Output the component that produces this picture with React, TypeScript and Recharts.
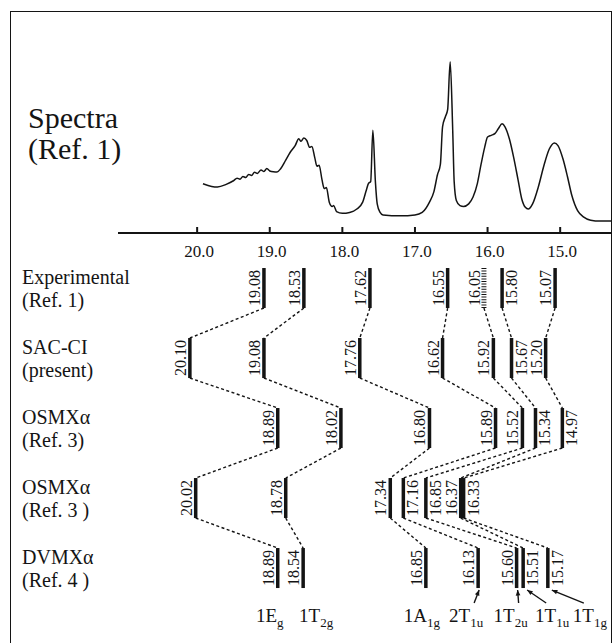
import { ComposedChart, Line, Scatter, XAxis, YAxis, ReferenceLine } from 'recharts';

const SERIF = "'Liberation Serif', 'Times New Roman', serif";
const INK = '#141414';

// photoelectron spectrum (eV, relative intensity)
const SPECTRUM_EV = [
  19.92, 19.8, 19.72, 19.6, 19.5, 19.45, 19.41, 19.37, 19.33, 19.29, 19.25, 19.21, 19.17, 19.12, 19.08,
  19.04, 19.0, 18.95, 18.9, 18.85, 18.78, 18.72, 18.65, 18.6, 18.57, 18.53, 18.49, 18.45, 18.42, 18.38,
  18.35, 18.32, 18.28, 18.25, 18.22, 18.18, 18.14, 18.12, 18.08, 18.0, 17.9, 17.8, 17.72, 17.67, 17.64,
  17.61, 17.58, 17.545, 17.52, 17.48, 17.44, 17.2, 17.0, 16.9, 16.8, 16.74, 16.69, 16.65, 16.62, 16.58,
  16.55, 16.515, 16.48, 16.46, 16.43, 16.38, 16.33, 16.26, 16.2, 16.14, 16.09, 16.04, 16.0, 15.95, 15.9,
  15.85, 15.8, 15.76, 15.7, 15.64, 15.58, 15.53, 15.48, 15.44, 15.38, 15.3, 15.22, 15.15, 15.08, 15.03,
  14.96, 14.9, 14.84, 14.76, 14.68, 14.58, 14.45, 14.3,
];
const SPECTRUM_INT = [
  28.7, 27.2, 26.9, 28.4, 30.5, 32.0, 31.4, 33.0, 32.4, 34.2, 33.6, 35.4, 34.8, 36.8, 35.9,
  37.6, 36.2, 35.7, 35.6, 37.5, 42.5, 47.0, 51.0, 55.0, 53.5, 55.5, 54.0, 50.0, 50.5, 44.0,
  39.0, 39.5, 31.0, 26.0, 26.5, 18.0, 15.5, 16.0, 12.5, 11.5, 12.0, 14.0, 18.0, 25.0, 29.0,
  30.0, 60.0, 30.0, 17.0, 12.0, 10.5, 10.0, 10.5, 12.0, 18.0, 24.0, 34.0, 40.0, 62.0, 68.0,
  72.0, 100.0, 60.0, 30.0, 19.0, 16.0, 15.5, 17.0, 21.0, 29.0, 40.0, 50.0, 56.0, 57.0, 58.0,
  61.0, 63.7, 62.0, 55.0, 44.0, 31.0, 20.0, 15.0, 14.0, 17.0, 27.0, 40.0, 49.0, 52.6, 51.0,
  43.0, 33.0, 22.0, 13.0, 9.4, 7.5, 7.0, 7.0,
];
const AXIS_TICKS = [20, 19, 18, 17, 16, 15];

const ROW_NAMES = ['Experimental', 'SAC-CI', 'OSMXα', 'OSMXα', 'DVMXα'];
const ROW_REFS = ['(Ref. 1)', '(present)', '(Ref. 3)', '(Ref. 3 )', '(Ref. 4 )'];

// ionization energies (eV), same state order in every row
const EXPERIMENTAL = [19.08, 18.53, 17.62, 16.55, 16.05, 15.8, 15.07];
const SAC_CI = [20.1, 19.08, 17.76, 16.62, 15.92, 15.67, 15.2];
const OSMX_A = [18.89, 18.02, 16.8, 15.89, 15.52, 15.34, 14.97];
const OSMX_B = [20.02, 18.78, 17.34, 17.16, 16.85, 16.37, 16.33];
const DVMX = [18.89, 18.54, 16.85, 16.13, 15.6, 15.51, 15.17];
const EXP_HATCHED = [16.05];

const SYM_MAIN = ['1E', '1T', '1A', '2T', '1T', '1T', '1T'];
const SYM_SUB = ['g', '2g', '1g', '1u', '2u', '1u', '1g'];

const ROWS = [EXPERIMENTAL, SAC_CI, OSMX_A, OSMX_B, DVMX];

// layout
const X_MIN = 14.3;
const X_MAX = 21.09;
const PLOT_W = 493;
const PX_PER_EV = PLOT_W / (X_MAX - X_MIN);
const Y_TOP = -0.386;
const Y_BOTTOM = 5.071;
const BAR_HALF_PX = 20;
const BAR_HALF = BAR_HALF_PX / 70;
const LABEL_W = 12;
const SYM_LABEL_DX = [-8, 13, -4, -12, -6, 29, 42];

function labelSides(values: number[]) {
  const order = values.map((v, i) => i).sort((a, b) => values[b] - values[a]);
  const sides: string[] = [];
  let used = -Infinity;
  order.forEach((i) => {
    const x = (X_MAX - values[i]) * PX_PER_EV;
    if (x - 4 - LABEL_W >= used + 1) {
      sides[i] = 'left';
      used = x + 2;
    } else {
      sides[i] = 'right';
      used = x + 4 + LABEL_W;
    }
  });
  return sides;
}

const spectrum = SPECTRUM_EV.map((e, i) => ({ e, i: SPECTRUM_INT[i] }));

const rowData = ROWS.map((vals, r) => {
  const sides = labelSides(vals);
  return vals.map((v, i) => ({
    x: v,
    y: r,
    label: v.toFixed(2),
    side: sides[i],
    hatched: r === 0 && EXP_HATCHED.includes(v),
  }));
});

const symData = DVMX.map((v, i) => ({
  x: v,
  y: 4,
  main: SYM_MAIN[i],
  sub: SYM_SUB[i],
  dx: SYM_LABEL_DX[i],
  arrow: i >= 3,
}));

const connectors: { x1: number; y1: number; x2: number; y2: number }[] = [];
for (let r = 0; r < ROWS.length - 1; r++) {
  ROWS[r].forEach((v, i) => {
    connectors.push({ x1: v, y1: r + BAR_HALF, x2: ROWS[r + 1][i], y2: r + 1 - BAR_HALF });
  });
}

const serifText = { fontFamily: SERIF };

function EnergyTick(props: any) {
  const { x, y, payload } = props;
  return (
    <g>
      <line x1={x} x2={x} y1={y} y2={y - 6} stroke={INK} strokeWidth={2} />
      <text x={x + 2} y={y + 24} textAnchor="middle" fontSize={17} style={serifText} fill={INK}>
        {Number(payload.value).toFixed(1)}
      </text>
    </g>
  );
}

function RowTick(props: any) {
  const { y, payload } = props;
  const i = payload.value;
  return (
    <g>
      <text x={22} y={y - 4} fontSize={20} style={serifText} fill={INK}>
        {ROW_NAMES[i]}
      </text>
      <text x={22} y={y + 19} fontSize={20} style={serifText} fill={INK}>
        {ROW_REFS[i]}
      </text>
    </g>
  );
}

function LevelMark(props: any) {
  const { cx, cy, payload } = props;
  const top = cy - BAR_HALF_PX;
  const tx = payload.side === 'left' ? cx - 4 : cx + 4 + LABEL_W - 1;
  return (
    <g>
      {payload.hatched ? (
        <line x1={cx} x2={cx} y1={top} y2={cy + BAR_HALF_PX} stroke={INK} strokeWidth={5} strokeDasharray="1 1.6" />
      ) : (
        <rect x={cx - 1.75} y={top} width={3.5} height={BAR_HALF_PX * 2} fill={INK} />
      )}
      <text
        x={tx}
        y={cy}
        transform={`rotate(-90 ${tx} ${cy})`}
        textAnchor="middle"
        fontSize={16}
        style={serifText}
        fill={INK}
      >
        {payload.label}
      </text>
    </g>
  );
}

function SymMark(props: any) {
  const { cx, cy, payload } = props;
  const lx = cx + payload.dx;
  let arrow = null;
  if (payload.arrow) {
    const sx = lx + (payload.dx < 0 ? 8 : -6);
    const sy = cy + 35;
    const ex = cx + (payload.dx < 0 ? 1 : 4);
    const ey = cy + BAR_HALF_PX + 2;
    const a = Math.atan2(ey - sy, ex - sx);
    const hl = 6;
    const p1 = `${ex},${ey}`;
    const p2 = `${ex - hl * Math.cos(a - 0.4)},${ey - hl * Math.sin(a - 0.4)}`;
    const p3 = `${ex - hl * Math.cos(a + 0.4)},${ey - hl * Math.sin(a + 0.4)}`;
    arrow = (
      <g>
        <line x1={sx} y1={sy} x2={ex} y2={ey} stroke={INK} strokeWidth={1.4} />
        <polygon points={`${p1} ${p2} ${p3}`} fill={INK} />
      </g>
    );
  }
  return (
    <g>
      {arrow}
      <text x={lx} y={cy + 54} textAnchor="middle" fontSize={19} style={serifText} fill={INK}>
        {payload.main}
        <tspan fontSize={13} dy={5}>{payload.sub}</tspan>
      </text>
    </g>
  );
}

export default function App() {
  return (
    <div style={{ position: 'absolute', left: 0, top: 0, width: 613, height: 643, overflow: 'hidden', background: '#fff' }}>
      <div
        style={{
          position: 'absolute',
          left: 10,
          top: 11,
          width: 602,
          height: 700,
          boxSizing: 'border-box',
          border: `1.6px solid ${INK}`,
        }}
      />
      <div
        style={{
          position: 'absolute',
          left: 28,
          top: 102,
          fontFamily: SERIF,
          fontSize: 30,
          lineHeight: '31px',
          color: INK,
        }}
      >
        Spectra
        <br />
        (Ref. 1)
      </div>

      <div style={{ position: 'absolute', left: 0, top: 0 }}>
        <ComposedChart width={613} height={261} data={spectrum} margin={{ top: 0, right: 2, bottom: 0, left: 0 }}>
          <XAxis
            dataKey="e"
            type="number"
            domain={[X_MIN, X_MAX]}
            reversed
            allowDataOverflow
            ticks={AXIS_TICKS}
            interval={0}
            tickSize={0}
            tickMargin={0}
            height={28}
            axisLine={{ stroke: INK, strokeWidth: 2 }}
            tickLine={false}
            tick={<EnergyTick />}
          />
          <YAxis type="number" domain={[0, 136]} width={118} tick={false} axisLine={false} tickLine={false} allowDataOverflow />
          <Line dataKey="i" type="monotone" dot={false} stroke={INK} strokeWidth={1.5} isAnimationActive={false} />
        </ComposedChart>
      </div>

      <div style={{ position: 'absolute', left: 0, top: 261 }}>
        <ComposedChart width={613} height={382} margin={{ top: 0, right: 2, bottom: 0, left: 0 }}>
          <XAxis hide type="number" dataKey="x" domain={[X_MIN, X_MAX]} reversed allowDataOverflow />
          <YAxis
            type="number"
            dataKey="y"
            domain={[Y_TOP, Y_BOTTOM]}
            reversed
            allowDataOverflow
            width={118}
            ticks={[0, 1, 2, 3, 4]}
            interval={0}
            axisLine={false}
            tickLine={false}
            tick={<RowTick />}
          />
          {connectors.map((c, k) => (
            <ReferenceLine
              key={`c-${k}`}
              segment={[
                { x: c.x1, y: c.y1 },
                { x: c.x2, y: c.y2 },
              ]}
              stroke={INK}
              strokeWidth={1.4}
              strokeDasharray="3 2.5"
            />
          ))}
          {rowData.map((d, r) => (
            <Scatter key={`row-${r}`} data={d} shape={LevelMark} isAnimationActive={false} />
          ))}
          <Scatter data={symData} shape={SymMark} isAnimationActive={false} />
        </ComposedChart>
      </div>
    </div>
  );
}
